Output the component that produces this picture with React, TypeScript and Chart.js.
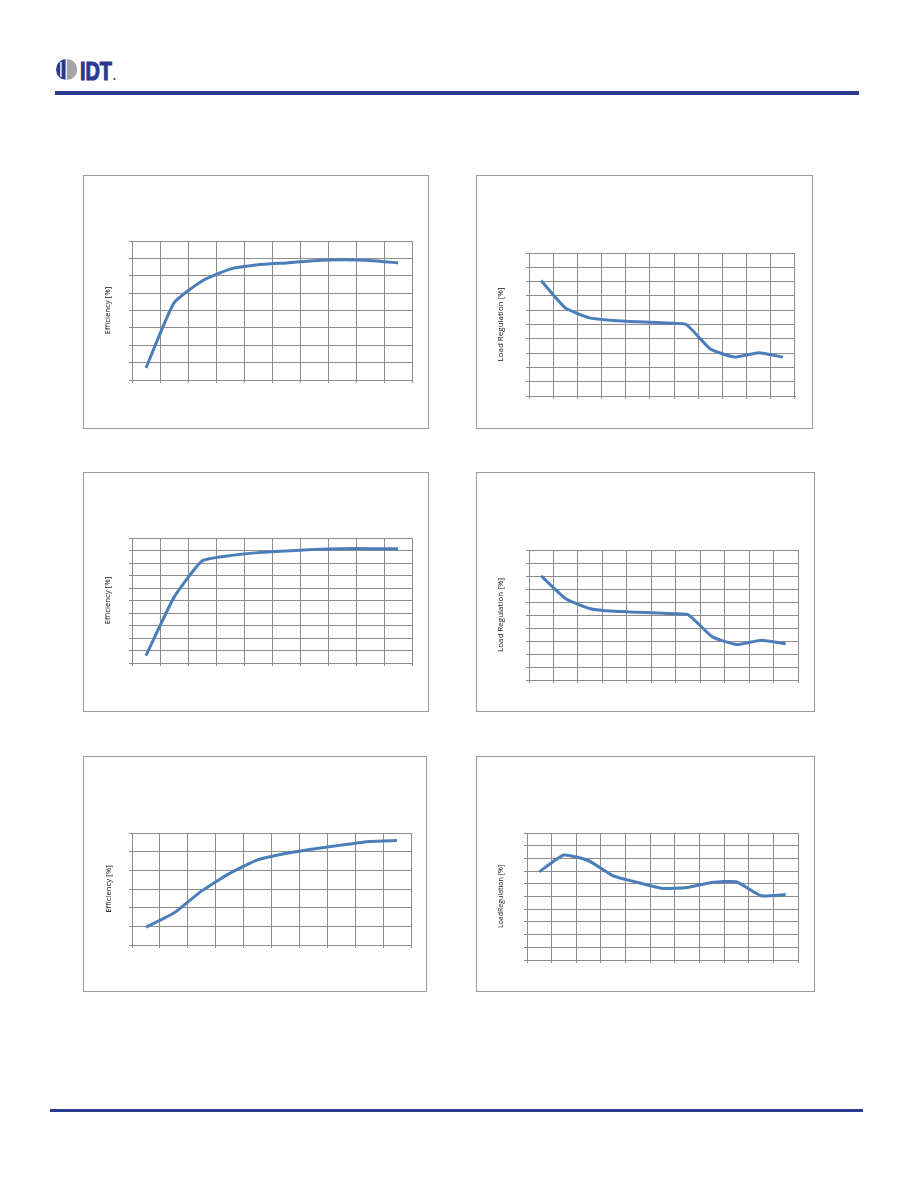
import React, { useEffect, useRef } from "react";
import { Chart, registerables } from "chart.js";
Chart.register(...registerables);

// ---------- data ----------
const loadSteps10 = ["1", "2", "3", "4", "5", "6", "7", "8", "9", "10"];
const loadSteps11 = ["0", "1", "2", "3", "4", "5", "6", "7", "8", "9", "10"];

const efficiency1 = [27.0, 64.4, 77.0, 83.8, 86.3, 87.4, 88.6, 89.2, 88.8, 87.4];
const loadReg2 = [0.614, 0.233, 0.093, 0.056, 0.037, 0.023, 0.0, -0.344, -0.456, -0.395, -0.456];
const efficiency3 = [5.9, 52.5, 81.6, 85.9, 88.3, 89.6, 90.9, 91.5, 91.5, 91.5];
const loadReg4 = [0.602, 0.25, 0.097, 0.056, 0.041, 0.026, 0.005, -0.337, -0.454, -0.388, -0.444];
const efficiency5 = [49.5, 57.1, 69.0, 78.4, 85.6, 89.0, 91.4, 93.5, 95.5, 96.0];
const loadReg6 = [0.389, 0.653, 0.563, 0.326, 0.221, 0.126, 0.142, 0.221, 0.232, 0.011, 0.032];

const titleEff = "Efficiency [%]";
const titleReg = "Load Regulation [%]";
const titleReg6 = "LoadRegulation [%]";

const NAVY = "#2B3990";
const GRID = "#8C8C8C";
const LINE = "#4A7EBB";

type Box = { x: number; y: number; w: number; h: number };
type Plot = { l: number; t: number; r: number; b: number };

function LineChart(props: {
  labels: string[];
  values: number[];
  yMin: number;
  yMax: number;
  yStep: number;
  title: string;
  titleSize: number;
  box: Box;
  plot: Plot;
  titleCx: number;
}) {
  const ref = useRef<HTMLCanvasElement>(null);
  const { box, plot } = props;
  const cw = box.w - 2;
  const ch = box.h - 2;
  useEffect(() => {
    const cl = box.x + 1;
    const ct = box.y + 1;
    const yW = plot.l - cl;
    const xH = ct + ch - plot.b;
    const lh = props.titleSize * 1.2;
    const gridOpts = { color: GRID, lineWidth: 1, drawTicks: true, tickLength: 3, tickColor: GRID };
    const chart = new Chart(ref.current!, {
      type: "line",
      data: {
        labels: props.labels,
        datasets: [
          {
            data: props.values,
            borderColor: LINE,
            borderWidth: 3,
            pointRadius: 0,
            tension: 0.15,
            fill: false,
            borderJoinStyle: "round",
          },
        ],
      },
      options: {
        responsive: false,
        animation: false,
        events: [],
        layout: { padding: { left: 0, top: plot.t - ct, right: cl + cw - plot.r, bottom: 0 } },
        plugins: { legend: { display: false }, tooltip: { enabled: false }, title: { display: false } },
        scales: {
          x: {
            type: "category",
            offset: true,
            grid: { ...gridOpts, offset: true },
            border: { color: GRID },
            ticks: { display: false },
            afterFit: (s: any) => {
              s.height = xH;
            },
          },
          y: {
            min: props.yMin,
            max: props.yMax,
            ticks: { display: false, stepSize: props.yStep },
            grid: gridOpts,
            border: { color: GRID },
            title: {
              display: true,
              text: props.title,
              color: "#111",
              font: { family: "Open Sans", size: props.titleSize },
              padding: { top: props.titleCx - cl - lh / 2, bottom: 0 },
            },
            afterFit: (s: any) => {
              s.width = yW;
            },
          },
        },
      },
    } as any);
    return () => chart.destroy();
  }, []);
  return (
    <div
      style={{
        position: "absolute",
        left: box.x,
        top: box.y,
        width: box.w,
        height: box.h,
        border: "1px solid #9A9A9A",
        boxSizing: "border-box",
        background: "#fff",
      }}
    >
      <canvas ref={ref} width={cw} height={ch} style={{ display: "block" }} />
    </div>
  );
}

function Logo() {
  return (
    <svg
      width={75}
      height={30}
      style={{ position: "absolute", left: 50, top: 55 }}
      viewBox="0 0 75 30"
    >
      <path d="M16.5,4 A10.5,10.5 0 0 0 16.5,25 Z" fill={NAVY} />
      <path d="M16.8,4 A10.5,10.5 0 0 1 16.8,25 Z" fill="#A2A4A7" />
      <rect x={10.2} y={7} width={1.4} height={15} fill="#fff" />
      <rect x={15.6} y={4} width={1.3} height={21} fill="#fff" />
      <text
        x={30}
        y={25}
        fontFamily="Liberation Sans, Arial, sans-serif"
        fontWeight="bold"
        fontSize={26}
        textLength={32}
        lengthAdjust="spacingAndGlyphs"
        fill={NAVY}
        stroke={NAVY}
        strokeWidth={1.2}
      >
        IDT
      </text>
      <circle cx={64.5} cy={24} r={1.1} fill={NAVY} />
    </svg>
  );
}

export default function App() {
  return (
    <div
      style={{
        position: "absolute",
        left: 0,
        top: 0,
        width: 918,
        height: 1188,
        background: "#fff",
        overflow: "hidden",
      }}
    >
      <Logo />
      <div style={{ position: "absolute", left: 55, top: 91, width: 804, height: 4, background: NAVY }} />
      <div style={{ position: "absolute", left: 50, top: 1109, width: 813, height: 3, background: NAVY }} />

      <LineChart
        labels={loadSteps10}
        values={efficiency1}
        yMin={20}
        yMax={100}
        yStep={10}
        title={titleEff}
        titleSize={7.8}
        box={{ x: 83, y: 175, w: 346, h: 254 }}
        plot={{ l: 132, t: 241, r: 412, b: 380 }}
        titleCx={108}
      />
      <LineChart
        labels={loadSteps11}
        values={loadReg2}
        yMin={-1}
        yMax={1}
        yStep={0.2}
        title={titleReg}
        titleSize={8}
        box={{ x: 476, y: 175, w: 337, h: 254 }}
        plot={{ l: 529, t: 253, r: 795, b: 396 }}
        titleCx={501}
      />
      <LineChart
        labels={loadSteps10}
        values={efficiency3}
        yMin={0}
        yMax={100}
        yStep={10}
        title={titleEff}
        titleSize={7.8}
        box={{ x: 83, y: 472, w: 346, h: 240 }}
        plot={{ l: 132, t: 538, r: 412, b: 663 }}
        titleCx={108}
      />
      <LineChart
        labels={loadSteps11}
        values={loadReg4}
        yMin={-1}
        yMax={1}
        yStep={0.2}
        title={titleReg}
        titleSize={8}
        box={{ x: 476, y: 472, w: 339, h: 240 }}
        plot={{ l: 529, t: 550, r: 798, b: 680 }}
        titleCx={501}
      />
      <LineChart
        labels={loadSteps10}
        values={efficiency5}
        yMin={40}
        yMax={100}
        yStep={10}
        title={titleEff}
        titleSize={7.8}
        box={{ x: 83, y: 756, w: 344, h: 236 }}
        plot={{ l: 132, t: 833, r: 411, b: 945 }}
        titleCx={109}
      />
      <LineChart
        labels={loadSteps11}
        values={loadReg6}
        yMin={-1}
        yMax={1}
        yStep={0.2}
        title={titleReg6}
        titleSize={7}
        box={{ x: 476, y: 756, w: 339, h: 236 }}
        plot={{ l: 527, t: 833, r: 798, b: 960 }}
        titleCx={501}
      />
    </div>
  );
}
